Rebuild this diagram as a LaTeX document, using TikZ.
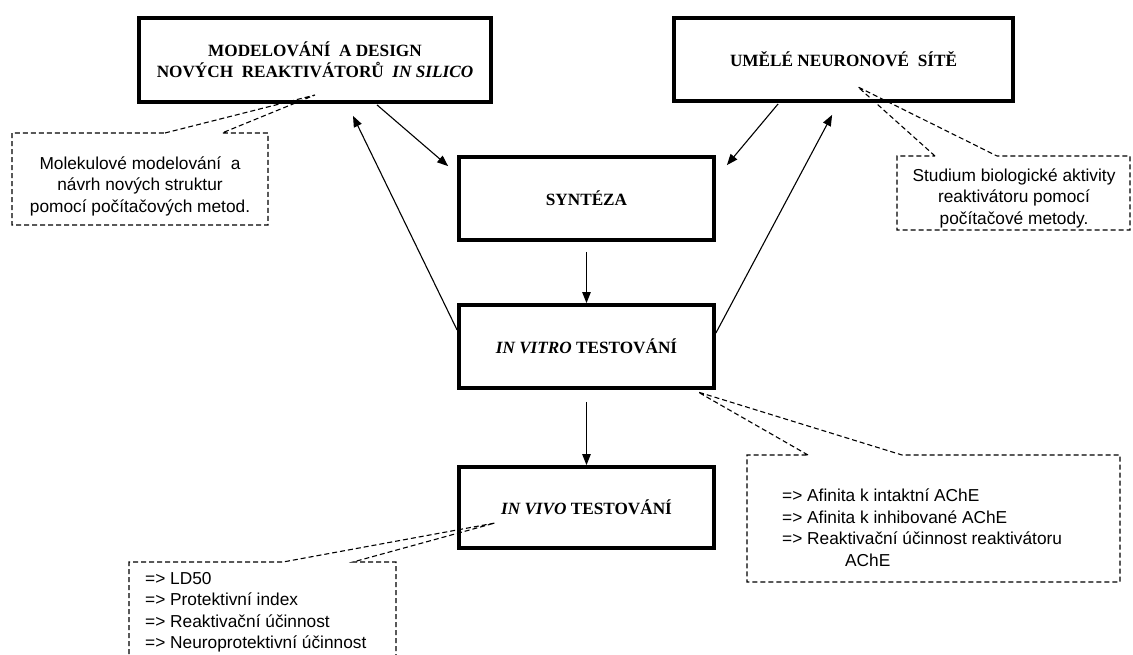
\documentclass[tikz,border=0pt]{standalone}
\usepackage{fontspec}
\setmainfont{Liberation Serif}
\newfontfamily\arialf{Liberation Sans}
\usetikzlibrary{arrows.meta,calc}
\begin{document}
\begin{tikzpicture}[x=1pt,y=-1pt,
  box/.style={draw,line width=3.8pt,inner sep=0pt,align=center,
    minimum width=255pt,minimum height=83pt,
    font=\fontsize{17.2}{20.5}\selectfont\bfseries},
  arr/.style={line width=1.1pt,-{Triangle[length=11pt,width=8.5pt]}},
  dsh/.style={line width=1.1pt,dash pattern=on 5pt off 3pt},
  ctext/.style={inner sep=0pt,font=\arialf\fontsize{17.3}{21.5}\selectfont}]
\useasboundingbox (0,0) rectangle (1133,655);
% main boxes
\node[box,minimum width=352pt,minimum height=84pt] (model) at (315,60)
  {MODELOVÁNÍ\ \ A DESIGN\\NOVÝCH\ \ REAKTIVÁTORŮ\ \ \textit{IN SILICO}};
\node[box,minimum width=339pt,minimum height=83pt] (neuro) at (843.5,59.5)
  {UMĚLÉ NEURONOVÉ\ \ SÍTĚ};
\node[box] (synt) at (586.5,198.5) {SYNTÉZA};
\node[box] (vitro) at (586.5,346.5) {\textit{IN VITRO} TESTOVÁNÍ};
\node[box,minimum height=81pt] (vivo) at (586.5,507.5) {\textit{IN VIVO} TESTOVÁNÍ};
% arrows
\draw[arr] ([xshift=62pt,yshift=-1pt]model.south) -- ([xshift=-9pt,yshift=-11pt]synt.north west);
\draw[arr] ([xshift=106pt,yshift=-1pt]neuro.south west) -- ([xshift=11pt,yshift=-10pt]synt.north east);
\draw[arr] ([yshift=16.5pt]vitro.west) -- ([xshift=38pt,yshift=-12pt]model.south);
\draw[arr] ([yshift=13.5pt]vitro.east) -- ([xshift=160pt,yshift=-12pt]neuro.south west);
\draw[arr] ([yshift=-10pt]synt.south) -- (vitro.north);
\draw[arr] ([yshift=-12pt]vitro.south) -- (vivo.north);
% callout tips
\coordinate (t1) at (315,95);
\coordinate (t2) at (858,87);
\coordinate (t3) at (698,392);
\coordinate (t4) at (495,523);
% callout 1
\node[ctext,align=center] (c1) at (140,186)
  {Molekulové modelování\ \ a\\návrh nových struktur\\pomocí počítačových metod.};
\draw[dsh] (165,133) -- (t1) -- (222,133) -| (268,225) -| (12,133) -- cycle;
% callout 2
\node[ctext,align=center] (c2) at (1014,198)
  {Studium biologické aktivity\\reaktivátoru pomocí\\počítačové metody.};
\draw[dsh] (935,156) -- (t2) -- (997,156) -| (1130,230) -| (897,156) -- cycle;
% callout 3
\node[ctext,align=left,anchor=north west] (c3) at (782,489)
  {=> Afinita k intaktní AChE\\=> Afinita k inhibované AChE\\=> Reaktivační účinnost reaktivátoru\\\hspace*{63pt}AChE};
\draw[dsh] (808,455) -- (t3) -- (902,455) -| (1120,582) -| (747,455) -- cycle;
% callout 4
\node[ctext,align=left,anchor=north west] (c4) at (145,572)
  {=> LD50\\=> Protektivní index\\=> Reaktivační účinnost\\=> Neuroprotektivní účinnost};
\draw[dsh] (129,662) -- (129,562) -- (283,562) -- (t4) -- (353,562) -- (396,562) -- (396,662);
\end{tikzpicture}
\end{document}
